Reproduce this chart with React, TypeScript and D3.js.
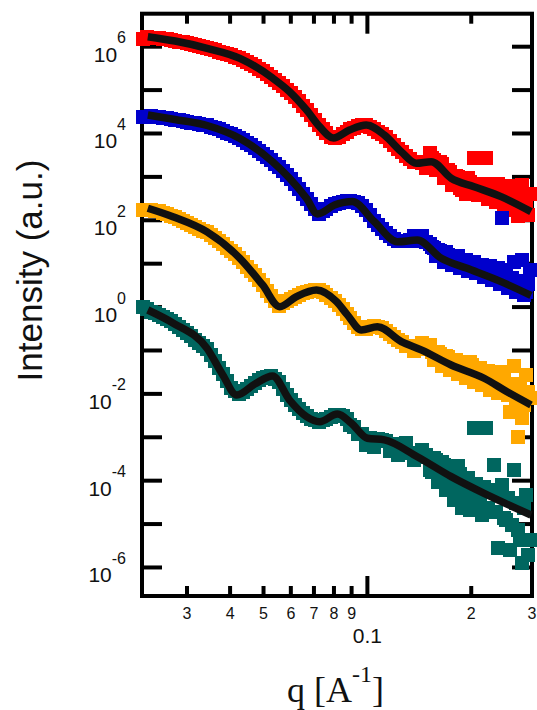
import React from "react";
import * as d3 from "d3";

// measured q values (A^-1), first pass of the data read-out
const qData = [
  0.0224, 0.0236, 0.0249, 0.0263, 0.0277, 0.0292, 0.0308, 0.0325, 0.0343, 0.0362, 0.0381, 0.0402, 0.0424, 0.0447, 0.0472, 0.0497,
  0.0525, 0.0553, 0.0584, 0.0615, 0.0649, 0.0685, 0.0722, 0.0761, 0.0803, 0.0847, 0.0893, 0.0942, 0.0993, 0.1047, 0.1105, 0.1166, 0.1229, 0.1296, 0.1367, 0.1442,
  0.1521, 0.1562, 0.1604, 0.1648, 0.1692, 0.1738, 0.1784, 0.1833, 0.1882, 0.1932, 0.1985, 0.2038, 0.2093, 0.2149, 0.2208, 0.2267, 0.2329, 0.239, 0.2456, 0.2521, 0.259, 0.2659, 0.2732, 0.2805, 0.2881, 0.2958,
];
const redI = [
  1.5e6, 1.6e6, 1.55e6, 1.47e6, 1.35e6, 1.25e6, 1.15e6, 1.04e6, 9.2e5, 8.2e5, 7.2e5, 6.3e5, 5.5e5, 4.4e5, 3.5e5, 2.7e5,
  2.0e5, 1.46e5, 1.03e5, 6.9e4, 4.4e4, 2.7e4, 1.53e4, 1.0e4, 7.9e3, 9.8e3, 1.27e4, 1.49e4, 1.57e4, 1.27e4, 9.8e3, 6.7e3, 4.4e3, 3.0e3, 2.2e3, 2.1e3,
  3.6e3, 2.45e3, 1.69e3, 1.98e3, 1.05e3, 1.3e3, 805, 995, 499, 404, 764, 2.73e3, 383, 617, 2.73e3, 449, 344, 686, 310, 473, 617, 173, 126, 650, 251, 404,
];
const blueI = [
  2.4e4, 2.53e4, 2.34e4, 2.22e4, 2.1e4, 1.94e4, 1.79e4, 1.66e4, 1.53e4, 1.34e4, 1.14e4, 9.5e3, 7.9e3, 6.2e3, 4.6e3, 3.4e3,
  2.4e3, 1.69e3, 1.11e3, 686, 404, 238, 140, 182, 238, 264, 279, 251, 173, 96, 63, 43, 33, 33, 43, 43,
  28.4, 23, 20.7, 16.7, 18.6, 13.6, 10.9, 15.1, 9.8, 12.2, 8.9, 10.9, 8.0, 9.3, 7.2, 8.9, 5.8, 8.0, 113, 7.2, 4.2, 10.9, 3.4, 12.2, 2.2, 7.2,
];
const orangeI = [
  173, 177, 160, 136, 116, 96, 78, 63, 54, 39, 28.4, 19.6, 13.6, 8.6, 5.35, 3.23,
  1.8, 1.06, 1.38, 1.71, 2.11, 2.41, 2.48, 1.9, 1.38, 0.91, 0.56, 0.35, 0.32, 0.36, 0.33, 0.24, 0.175, 0.127, 0.0975, 0.149,
  0.134, 0.0604, 0.0925, 0.044, 0.0748, 0.0356, 0.0604, 0.0288, 0.0489, 0.0233, 0.0543, 0.0188, 0.0356, 0.016, 0.032, 0.0123, 0.0209, 0.0105, 0.032, 0.0111, 0.0038, 0.044, 0.001, 0.0028, 0.0273, 0.008,
];
const tealI = [
  1.0, 0.79, 0.66, 0.53, 0.41, 0.3, 0.21, 0.149, 0.108, 0.057, 0.028, 0.0137, 0.0097, 0.013, 0.0178, 0.0233,
  0.0259, 0.0188, 0.0094, 0.0056, 0.0036, 0.0026, 0.0023, 0.0026, 0.0033, 0.0031, 0.0019, 0.0012, 6.7e-4, 6.0e-4, 8.7e-4, 4.8e-4, 3.9e-4, 7.4e-4, 3.0e-4, 5.1e-4,
  1.77e-4, 3.3e-4, 9.3e-5, 2.7e-4, 6.1e-5, 1.96e-4, 3.6e-5, 2.18e-4, 2.35e-5, 9.3e-5, 2.1e-5, 1.64e-3, 4.45e-5, 1.62e-5, 1.64e-3, 1.9e-5, 2.3e-4, 2.82e-6, 8.0e-5, 1.24e-5, 2.54e-6, 1.77e-4, 7.3e-6, 1.27e-6, 4.7e-5, 4.3e-6,
];

// second pass of the read-out (points lying between the first ones)
const qData2 = [
  0.023, 0.0242, 0.0256, 0.027, 0.0284, 0.03, 0.0316, 0.0334, 0.0352, 0.0371, 0.0392, 0.0413, 0.0436, 0.0459, 0.0485, 0.0511, 0.0539, 0.0569,
  0.06, 0.0632, 0.0667, 0.0704, 0.0742, 0.0782, 0.0825, 0.087, 0.0917, 0.0967, 0.102, 0.1076, 0.1135, 0.1197, 0.1262, 0.1331, 0.1404,
  0.1481, 0.1541, 0.1583, 0.1626, 0.1669, 0.1714, 0.1761, 0.1808, 0.1857, 0.1907, 0.1958, 0.2011, 0.2065, 0.2121, 0.2179, 0.2237, 0.2297, 0.2359, 0.2423, 0.2489, 0.2556, 0.2625, 0.2696, 0.2769, 0.2844, 0.292,
];
const redI2 = [
  1.67e6, 1.59e6, 1.5e6, 1.41e6, 1.3e6, 1.2e6, 1.09e6, 9.7e5, 8.7e5, 7.7e5, 6.7e5, 5.9e5, 4.9e5, 3.95e5, 3.06e5, 2.32e5, 1.71e5, 1.23e5,
  8.5e4, 5.5e4, 3.44e4, 2.03e4, 1.24e4, 8.5e3, 8.5e3, 1.11e4, 1.37e4, 1.55e4, 1.43e4, 1.11e4, 8.1e3, 5.4e3, 3.65e3, 2.59e3, 2.15e3,
  1.6e3, 2.73e3, 1.44e3, 2.2e3, 944, 1.44e3, 650, 1.05e3, 555, 849, 944, 449, 686, 383, 686, 310, 555, 264, 499, 225, 404, 192, 327, 155, 294, 132,
];
const blueI2 = [
  2.46e4, 2.44e4, 2.28e4, 2.16e4, 2.03e4, 1.87e4, 1.73e4, 1.6e4, 1.44e4, 1.24e4, 1.04e4, 8.7e3, 7.0e3, 5.4e3, 3.95e3, 2.84e3, 2.01e3, 1.37e3,
  871, 526, 310, 182, 160, 208, 251, 271, 264, 208, 129, 78, 52, 38, 33.3, 34.3, 32.5,
  31.6, 24.3, 15.1, 19.6, 10.9, 15.9, 9.3, 13.6, 8.0, 11.5, 6.8, 9.8, 6.1, 8.9, 4.9, 7.2, 4.2, 6.4, 3.4, 5.5, 2.75, 4.7, 2.2, 4.0, 1.9, 3.4,
];
const orangeI2 = [
  177, 168, 147, 126, 106, 87, 70, 58, 46, 33, 23.6, 16.3, 10.8, 6.8, 4.17, 2.41, 1.38, 1.21,
  1.54, 1.9, 2.26, 2.45, 2.17, 1.62, 1.12, 0.71, 0.44, 0.32, 0.34, 0.34, 0.28, 0.205, 0.157, 0.129, 0.108,
  0.114, 0.0925, 0.0604, 0.0832, 0.0489, 0.0708, 0.0395, 0.0604, 0.0337, 0.0543, 0.0288, 0.0463, 0.0245, 0.0395, 0.0209, 0.0337, 0.016, 0.0259, 0.0123, 0.0209, 0.0094, 0.0169, 0.0072, 0.0137, 0.0056, 0.0111,
];
const tealI2 = [
  0.88, 0.72, 0.59, 0.47, 0.35, 0.25, 0.177, 0.127, 0.079, 0.04, 0.0196, 0.0116, 0.0111, 0.0152, 0.0204, 0.0245, 0.0221, 0.0133,
  0.0072, 0.0045, 0.0031, 0.0025, 0.0025, 0.0029, 0.0032, 0.0026, 0.0017, 0.0012, 9.5e-4, 9.0e-4, 8.4e-4, 6.9e-4, 5.5e-4, 4.35e-4, 3.5e-4,
  3.9e-4, 1.59e-4, 3.0e-4, 1.16e-4, 2.3e-4, 8.4e-5, 1.77e-4, 6.1e-5, 1.43e-4, 4.7e-5, 1.16e-4, 3.6e-5, 8.4e-5, 2.75e-5, 7.2e-5, 2.35e-5, 6.1e-5, 1.9e-5, 4.9e-5, 1.38e-5, 4.0e-5, 9.5e-6, 3.1e-5, 4.3e-6, 2.35e-5, 1.9e-6,
];

// model fits [q, I]
const redFit = [
  [0.0231, 1.7e6], [0.0277, 1.35e6], [0.0343, 9.2e5], [0.0427, 5.4e5], [0.0531, 1.9e5], [0.0595, 9.2e4], [0.0666, 3.5e4],
  [0.0727, 1.44e4], [0.0797, 7.9e3], [0.0887, 1.2e4], [0.0993, 1.57e4], [0.112, 9.2e3], [0.1254, 3.8e3], [0.1385, 2.06e3],
  [0.1531, 2.24e3], [0.1749, 930], [0.2038, 594], [0.244, 350], [0.298, 158],
];
const blueFit = [
  [0.0231, 2.67e4], [0.0277, 2.1e4], [0.0343, 1.53e4], [0.0427, 7.7e3], [0.0531, 2.24e3], [0.0595, 930], [0.0666, 321],
  [0.0717, 140], [0.0803, 225], [0.0905, 271], [0.1047, 93], [0.1221, 32], [0.1395, 35], [0.1637, 13.3], [0.1945, 7.8],
  [0.244, 3.85], [0.298, 1.85],
];
const orangeFit = [
  [0.0231, 189], [0.0273, 121], [0.0343, 54], [0.0427, 13.3], [0.0497, 3.23], [0.0557, 1.02], [0.0623, 1.74], [0.0712, 2.48],
  [0.0814, 1.33], [0.0875, 0.66], [0.0961, 0.296], [0.1069, 0.353], [0.1254, 0.16], [0.1432, 0.103], [0.1749, 0.0463],
  [0.2179, 0.0229], [0.2539, 0.0112], [0.298, 0.00555],
];
const tealFit = [
  [0.0231, 0.857], [0.0273, 0.431], [0.0343, 0.112], [0.0381, 0.0272], [0.0418, 0.0094], [0.0472, 0.0169], [0.0531, 0.0259],
  [0.0595, 0.0072], [0.0666, 0.003], [0.0727, 0.00229], [0.0819, 0.00344], [0.0899, 0.0021], [0.1, 9.5e-4], [0.112, 8.7e-4],
  [0.1395, 3.57e-4], [0.1749, 1.24e-4], [0.2179, 5.1e-5], [0.298, 1.62e-5],
];

const yTickExps = [-6, -5, -4, -3, -2, -1, 0, 1, 2, 3, 4, 5, 6];
const yLabelExps = [-6, -4, -2, 0, 2, 4, 6];
const xMinorTicks = [0.03, 0.04, 0.05, 0.06, 0.07, 0.08, 0.09, 0.2, 0.3];
const xMinorLabels = ["3", "4", "5", "6", "7", "8", "9", "2", "3"];
const xMajorTicks = [0.1];
const xMajorLabels = ["0.1"];

const seriesColors = ["#ff0000", "#0000cc", "#ffa800", "#00665f"];

const W = 537;
const H = 710;
const L = 142, R = 532, T = 13.7, B = 596;
const SANS = "'Liberation Sans', Arial, Helvetica, sans-serif";
const SERIF = "'Liberation Serif', 'Times New Roman', Times, serif";

export default function App() {
  const x = d3.scaleLog().domain([0.02222, 0.3]).range([L, R]);
  const y = d3.scaleLog().domain([2.2e-7, 5.76e6]).range([B, T]);
  const line = d3
    .line<number[]>()
    .x((d) => x(d[0]))
    .y((d) => y(d[1]))
    .curve(d3.curveMonotoneX);

  const series = [
    { I: redI, I2: redI2, fit: redFit, color: seriesColors[0] },
    { I: blueI, I2: blueI2, fit: blueFit, color: seriesColors[1] },
    { I: orangeI, I2: orangeI2, fit: orangeFit, color: seriesColors[2] },
    { I: tealI, I2: tealI2, fit: tealFit, color: seriesColors[3] },
  ];
  const ms = 14;

  return (
    <svg width={W} height={H} style={{ position: "absolute", left: 0, top: 0, background: "#fff" }}>
      <rect x={0} y={0} width={W} height={H} fill="#fff" />
      <rect x={L} y={T} width={R - L} height={B - T} fill="none" stroke="#000" strokeWidth={4} />
      {yTickExps.map((e) => {
        const yy = y(Math.pow(10, e));
        return (
          <g key={"yt" + e}>
            <line x1={L} x2={L + 20} y1={yy} y2={yy} stroke="#000" strokeWidth={4} />
            <line x1={R} x2={R - 20} y1={yy} y2={yy} stroke="#000" strokeWidth={4} />
          </g>
        );
      })}
      {xMinorTicks.map((t) => (
        <g key={"xm" + t}>
          <line x1={x(t)} x2={x(t)} y1={B} y2={B - 10} stroke="#000" strokeWidth={4} />
          <line x1={x(t)} x2={x(t)} y1={T} y2={T + 10} stroke="#000" strokeWidth={4} />
        </g>
      ))}
      {xMajorTicks.map((t) => (
        <g key={"xM" + t}>
          <line x1={x(t)} x2={x(t)} y1={B} y2={B - 20} stroke="#000" strokeWidth={4} />
          <line x1={x(t)} x2={x(t)} y1={T} y2={T + 20} stroke="#000" strokeWidth={4} />
        </g>
      ))}
      {yLabelExps.map((e) => (
        <text key={"yl" + e} x={126} y={y(Math.pow(10, e)) + 15} textAnchor="end" fontFamily={SANS} fontSize={21} fill="#111">
          10
          <tspan dy={-18.4} fontSize={16}>
            {String(e)}
          </tspan>
        </text>
      ))}
      {xMinorTicks.map((t, i) => (
        <text key={"xl" + t} x={x(t)} y={618.5} textAnchor="middle" fontFamily={SANS} fontSize={16} fill="#111">
          {xMinorLabels[i]}
        </text>
      ))}
      {xMajorTicks.map((t, i) => (
        <text key={"xL" + t} x={x(t)} y={643} textAnchor="middle" fontFamily={SANS} fontSize={21} fill="#111">
          {xMajorLabels[i]}
        </text>
      ))}
      {series.map((s, si) => (
        <g key={"s" + si} fill={s.color} shapeRendering="crispEdges">
          {qData.map((q, i) => (
            <rect key={"a" + i} x={x(q) - ms / 2} y={y(s.I[i]) - ms / 2} width={ms} height={ms} />
          ))}
          {qData2.map((q, i) => (
            <rect key={"b" + i} x={x(q) - ms / 2} y={y(s.I2[i]) - ms / 2} width={ms} height={ms} />
          ))}
        </g>
      ))}
      {series.map((s, si) => (
        <path
          key={"f" + si}
          d={line(s.fit as number[][]) || ""}
          fill="none"
          stroke="#111"
          strokeWidth={7.5}
          strokeLinejoin="round"
          strokeLinecap="butt"
        />
      ))}
      <text transform="translate(42,270.5) rotate(-90)" textAnchor="middle" fontFamily={SANS} fontSize={35} fill="#111">
        Intensity (a.u.)
      </text>
      <text x={287} y={702} fontFamily={SERIF} fontSize={36} fill="#111">
        q [A
        <tspan dy={-20} fontSize={24}>
          -1
        </tspan>
        <tspan dy={20}>]</tspan>
      </text>
    </svg>
  );
}
